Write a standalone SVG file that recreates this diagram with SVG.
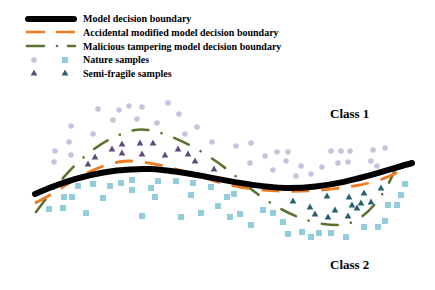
<svg xmlns="http://www.w3.org/2000/svg" xmlns:xlink="http://www.w3.org/1999/xlink" width="435" height="290" viewBox="0 0 435 290">
<style>
.lbl{font-family:"Liberation Serif","Times New Roman",serif;font-weight:bold;font-size:10px;fill:#000}
.cls{font-family:"Liberation Serif","Times New Roman",serif;font-weight:bold;font-size:13px;fill:#000}
.blk{fill:none;stroke:#000;stroke-width:6;stroke-linecap:round}
.org{fill:none;stroke:#ee7a22;stroke-width:2.8;stroke-dasharray:18 12}
.grn{fill:none;stroke:#5a7430;stroke-width:2.6;stroke-linecap:round;stroke-dasharray:16 13.5 0.01 13.5}
</style>
<defs>
<circle id="c" r="2.8" fill="#ccc1dd"/>
<rect id="s" x="-3" y="-3" width="6" height="6" fill="#92cddc"/>
<path id="tp" d="M0,-3.6 L3.3,2.6 L-3.3,2.6Z" fill="#5f4a7b"/>
<path id="tt" d="M0,-3.6 L3.3,2.6 L-3.3,2.6Z" fill="#24606e"/>
</defs>
<rect width="435" height="290" fill="#fff"/>
<g id="legend">
<line x1="28" y1="19" x2="74" y2="19" class="blk"/>
<text x="83" y="22" class="lbl">Model decision boundary</text>
<path d="M26,32 H45 M56,32 H75" fill="none" stroke="#ee7a22" stroke-width="2.6"/>
<text x="83" y="36" class="lbl">Accidental modified model decision boundary</text>
<path d="M27,46 H44 M68,46 H75" fill="none" stroke="#5a7430" stroke-width="2.6" stroke-linecap="round"/>
<circle cx="57" cy="46" r="1.3" fill="#5a7430"/>
<text x="83" y="49.5" class="lbl">Malicious tampering model decision boundary</text>
<use xlink:href="#c" x="34" y="60"/>
<use xlink:href="#s" x="65" y="60"/>
<text x="83" y="63" class="lbl">Nature samples</text>
<use xlink:href="#tp" x="34" y="73"/>
<use xlink:href="#tt" x="65" y="73"/>
<text x="83" y="76.5" class="lbl">Semi-fragile samples</text>
</g>
<g id="nature-circles">
<use xlink:href="#c" x="98" y="109"/><use xlink:href="#c" x="119" y="110"/><use xlink:href="#c" x="129" y="106"/><use xlink:href="#c" x="142" y="107"/>
<use xlink:href="#c" x="168" y="103"/><use xlink:href="#c" x="179" y="114"/><use xlink:href="#c" x="113" y="120"/><use xlink:href="#c" x="137" y="119"/>
<use xlink:href="#c" x="157" y="123"/><use xlink:href="#c" x="71" y="126"/><use xlink:href="#c" x="197" y="127"/><use xlink:href="#c" x="93" y="134"/>
<use xlink:href="#c" x="185" y="134"/><use xlink:href="#c" x="69" y="142"/><use xlink:href="#c" x="212" y="142"/><use xlink:href="#c" x="55" y="151"/>
<use xlink:href="#c" x="71" y="155"/><use xlink:href="#c" x="54" y="162"/>
<use xlink:href="#c" x="236" y="146"/><use xlink:href="#c" x="251" y="143"/><use xlink:href="#c" x="265" y="156"/><use xlink:href="#c" x="277" y="152"/>
<use xlink:href="#c" x="288" y="152"/><use xlink:href="#c" x="250" y="163"/><use xlink:href="#c" x="286" y="161"/><use xlink:href="#c" x="273" y="170"/>
<use xlink:href="#c" x="301" y="166"/><use xlink:href="#c" x="296" y="176"/><use xlink:href="#c" x="311" y="174"/><use xlink:href="#c" x="322" y="167"/>
<use xlink:href="#c" x="331" y="151"/><use xlink:href="#c" x="341" y="151"/><use xlink:href="#c" x="350" y="151"/><use xlink:href="#c" x="338" y="163"/>
<use xlink:href="#c" x="348" y="162"/><use xlink:href="#c" x="373" y="150"/><use xlink:href="#c" x="385" y="148"/><use xlink:href="#c" x="371" y="161"/>
<use xlink:href="#c" x="377" y="166"/>
</g>
<g id="nature-squares">
<use xlink:href="#s" x="78" y="186"/><use xlink:href="#s" x="93" y="184"/><use xlink:href="#s" x="110" y="186"/><use xlink:href="#s" x="121" y="183"/>
<use xlink:href="#s" x="132" y="180"/><use xlink:href="#s" x="132" y="190"/><use xlink:href="#s" x="151" y="188"/><use xlink:href="#s" x="158" y="181"/>
<use xlink:href="#s" x="176" y="181"/><use xlink:href="#s" x="193" y="183"/><use xlink:href="#s" x="211" y="187"/><use xlink:href="#s" x="64" y="197"/>
<use xlink:href="#s" x="72" y="197"/><use xlink:href="#s" x="103" y="198"/><use xlink:href="#s" x="155" y="197"/><use xlink:href="#s" x="191" y="195"/>
<use xlink:href="#s" x="218" y="206"/><use xlink:href="#s" x="49" y="209"/><use xlink:href="#s" x="63" y="208"/><use xlink:href="#s" x="86" y="213"/>
<use xlink:href="#s" x="142" y="216"/><use xlink:href="#s" x="181" y="217"/><use xlink:href="#s" x="201" y="213"/>
<use xlink:href="#s" x="227" y="197"/><use xlink:href="#s" x="234" y="194"/><use xlink:href="#s" x="230" y="217"/><use xlink:href="#s" x="240" y="214"/>
<use xlink:href="#s" x="251" y="225"/><use xlink:href="#s" x="263" y="210"/><use xlink:href="#s" x="273" y="213"/><use xlink:href="#s" x="283" y="222"/>
<use xlink:href="#s" x="288" y="234"/><use xlink:href="#s" x="302" y="232"/><use xlink:href="#s" x="311" y="237"/><use xlink:href="#s" x="319" y="233"/>
<use xlink:href="#s" x="331" y="233"/><use xlink:href="#s" x="346" y="237"/><use xlink:href="#s" x="364" y="227"/><use xlink:href="#s" x="378" y="227"/>
<use xlink:href="#s" x="385" y="221"/><use xlink:href="#s" x="388" y="205"/><use xlink:href="#s" x="397" y="205"/><use xlink:href="#s" x="401" y="195"/>
<use xlink:href="#s" x="405" y="184"/>
</g>
<g id="semifragile-class1">
<use xlink:href="#tp" x="88" y="164"/><use xlink:href="#tp" x="95" y="157"/><use xlink:href="#tp" x="112" y="149"/><use xlink:href="#tp" x="122" y="144"/>
<use xlink:href="#tp" x="122" y="153"/><use xlink:href="#tp" x="140" y="143"/><use xlink:href="#tp" x="153" y="143"/><use xlink:href="#tp" x="142" y="154"/>
<use xlink:href="#tp" x="165" y="155"/><use xlink:href="#tp" x="178" y="149"/><use xlink:href="#tp" x="188" y="154"/><use xlink:href="#tp" x="195" y="161"/>
<use xlink:href="#tp" x="214" y="169"/>
</g>
<g id="semifragile-class2">
<use xlink:href="#tt" x="327" y="196"/><use xlink:href="#tt" x="349" y="197"/><use xlink:href="#tt" x="364" y="193"/><use xlink:href="#tt" x="381" y="188"/>
<use xlink:href="#tt" x="293" y="201"/><use xlink:href="#tt" x="352" y="205"/><use xlink:href="#tt" x="361" y="203"/><use xlink:href="#tt" x="371" y="202"/>
<use xlink:href="#tt" x="310" y="207"/><use xlink:href="#tt" x="357" y="208"/><use xlink:href="#tt" x="315" y="214"/><use xlink:href="#tt" x="335" y="210"/>
<use xlink:href="#tt" x="328" y="217"/><use xlink:href="#tt" x="348" y="216"/>
</g>
<g id="connectors">
<path class="grn" d="M36,212 C60,180 90,140 135,130 C155,126 200,145 240,180 C270,206 305,226 340,225 C362,224 385,200 400,157"/>
<path class="org" d="M35,203 C60,192 90,163 128,161 C170,162 200,180 240,187 C280,194 320,192 360,185 C385,180 400,172 412,163"/>
<path class="blk" d="M35,194 C70,178 110,168 150,169 C195,171 235,186 285,188 C335,189 380,172 412,163"/>
</g>
<text x="330" y="118" class="cls">Class 1</text>
<text x="330" y="269" class="cls">Class 2</text>
</svg>
